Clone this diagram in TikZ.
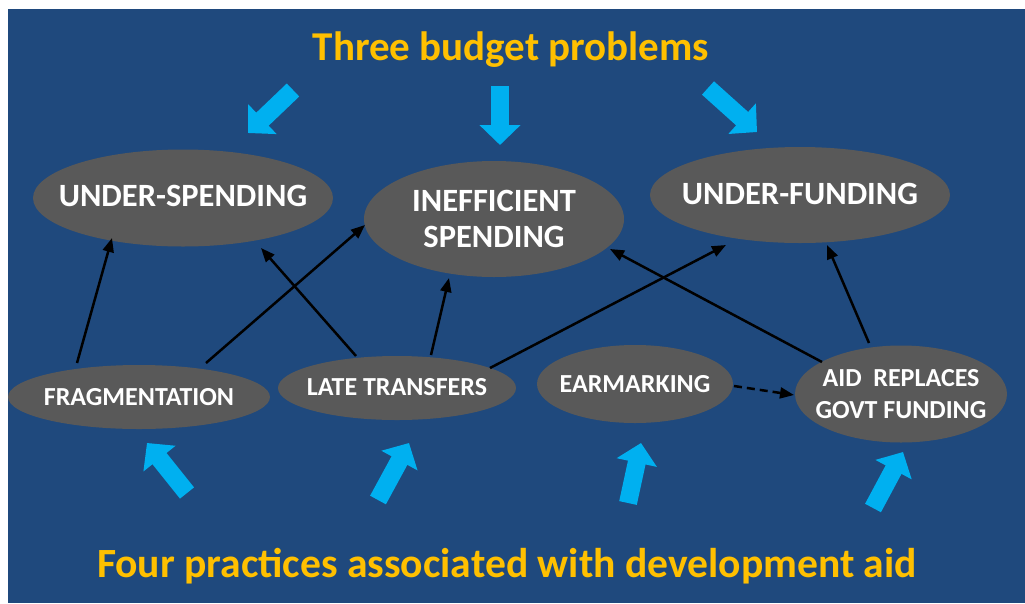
\documentclass[tikz,border=0pt]{standalone}
\usepackage{fontspec}
\setmainfont{Carlito}
\usetikzlibrary{arrows.meta,calc,backgrounds}
\definecolor{bg}{HTML}{1F497D}
\definecolor{ell}{HTML}{595959}
\definecolor{abl}{HTML}{00B0F0}
\definecolor{gold}{HTML}{FFC000}
\begin{document}
\begin{tikzpicture}[x=1pt,y=-1pt,
  prob/.style={inner sep=0pt,text=white,font=\bfseries\fontsize{32.5}{36}\selectfont,align=center},
  prac/.style={inner sep=0pt,text=white,font=\bfseries\fontsize{26}{32}\selectfont,align=center},
  blob/.style={fill=ell},
  link/.style={draw=black,line width=2.5pt,-{Triangle[length=14pt,width=11pt]}},
  bigarrow/.style={draw=abl,line width=18pt,-{Triangle[length=20pt,width=40pt]}},
  heading/.style={text=gold,font=\bfseries\fontsize{41}{48}\selectfont,inner sep=0pt}]
\useasboundingbox (0,0) rectangle (1025,603);

% headings
\node[heading] (top) at (511,50) {Three budget problems};
\node[heading,font=\bfseries\fontsize{41.6}{48}\selectfont] (bot) at (507,566) {Four practices associated with development aid};

% problems
\node[prob] (us) at (183,196) {UNDER-SPENDING};
\node[prob] (is) at (494,219) {INEFFICIENT\\SPENDING};
\node[prob] (uf) at (800,194) {UNDER-FUNDING};

% practices
\node[prac] (fr) at (139,397) {FRAGMENTATION};
\node[prac] (lt) at (397,387) {LATE TRANSFERS};
\node[prac] (em) at (635,384) {EARMARKING};
\node[prac] (ar) at (901,394) {AID\ \ REPLACES\\GOVT FUNDING};

\begin{scope}[on background layer]
  \fill[white] (0,0) rectangle (1025,603);
  \fill[bg] (8,9) rectangle (1025,603);
  \fill[blob] ($(us.center)+(0,2)$) ellipse [x radius=150pt, y radius=48.5pt];
  \fill[blob] (is.center) ellipse [x radius=130pt, y radius=58pt];
  \fill[blob] ($(uf.center)+(0,1)$) ellipse [x radius=150pt, y radius=48pt];
  \fill[blob] (fr.center) ellipse [x radius=131pt, y radius=32pt];
  \fill[blob] ($(lt.center)+(0,1)$) ellipse [x radius=119pt, y radius=32pt];
  \fill[blob] (em.center) ellipse [x radius=98pt, y radius=39pt];
  \fill[blob] (ar.center) ellipse [x radius=106pt, y radius=48.5pt];
\end{scope}

% links
\draw[link] ($(fr)+(-62,-34)$) -- ($(us)+(-71,42)$);
\draw[link] ($(fr)+(67,-34)$) -- ($(is)+(-129,6)$);
\draw[link] ($(lt)+(-41,-31)$) -- ($(us)+(78,52)$);
\draw[link] ($(lt)+(34,-32)$) -- ($(is)+(-45,59)$);
\draw[link] ($(lt)+(93,-19)$) -- ($(uf)+(-74,51)$);
\draw[link] ($(ar)+(-79,-32)$) -- ($(is)+(116,30)$);
\draw[link] ($(ar)+(-32,-51)$) -- ($(uf)+(27,51)$);
\draw[link,dash pattern=on 8pt off 5pt] ($(em)+(99,2)$) -- ($(ar)+(-107,1)$);

% big blue arrows
\coordinate (a1s) at (293,90);  \coordinate (a1e) at (248,133);
\coordinate (a2s) at (500,86);  \coordinate (a2e) at (500,145);
\coordinate (a3s) at (708,88);  \coordinate (a3e) at (757,132);
\coordinate (b1s) at (187,493); \coordinate (b1e) at (147,443);
\coordinate (b2s) at (378,500); \coordinate (b2e) at (409,443);
\coordinate (b3s) at (628,503); \coordinate (b3e) at (641,443);
\coordinate (b4s) at (873,508); \coordinate (b4e) at (903,452);
\foreach \s/\e in {a1s/a1e,a2s/a2e,a3s/a3e,b1s/b1e,b2s/b2e,b3s/b3e,b4s/b4e}
  \draw[bigarrow] (\s) -- (\e);
\end{tikzpicture}
\end{document}
